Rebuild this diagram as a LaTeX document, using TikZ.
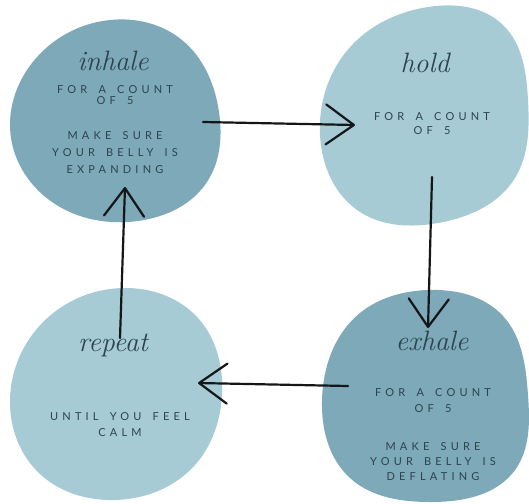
\documentclass[tikz,border=0pt]{standalone}
\usepackage{fontspec}
\usetikzlibrary{arrows.meta,hobby}
\newfontfamily\capsfont[LetterSpace=38,WordSpace=1.6]{Lato}
\definecolor{blobdark}{RGB}{125,169,184}
\definecolor{bloblight}{RGB}{166,203,212}
\definecolor{txt}{RGB}{44,68,78}
\definecolor{ink}{RGB}{20,22,24}
\begin{document}
\begin{tikzpicture}[x=1pt,y=-1pt,
  darkblob/.style={fill=blobdark,draw=none},
  lightblob/.style={fill=bloblight,draw=none},
  title/.style={font=\itshape\fontsize{28}{28}\selectfont,text=txt,inner sep=0},
  caps/.style={text=txt,align=center,inner sep=0},
  conn/.style={line width=2.2pt,draw=ink,line cap=round,
    -{Straight Barb[length=28pt,width=40pt,line join=round,line cap=round]}}]
\useasboundingbox (0,0) rectangle (529,503);
\fill[white] (0,0) rectangle (529,503);
% blobs
\fill[darkblob,use Hobby shortcut,closed=true] (110,20) .. (182,40) .. (219,112) .. (207,182) .. (138,221) .. (55,204) .. (11,138) .. (32,63);
\fill[lightblob,use Hobby shortcut,closed=true] (428,7) .. (503,25) .. (528,100) .. (515,178) .. (438,223) .. (360,212) .. (320,135) .. (352,45);
\fill[lightblob,use Hobby shortcut,closed=true] (127,288) .. (198,318) .. (222,395) .. (195,465) .. (115,500) .. (40,474) .. (10,400) .. (52,314);
\fill[darkblob,use Hobby shortcut,closed=true] (428,290) .. (503,316) .. (528,395) .. (515,470) .. (430,502) .. (350,478) .. (322,400) .. (360,313);
% texts
\node[title] (tinhale) at (113,61) {inhale};
\node[caps,font=\capsfont\fontsize{11}{11.5}\selectfont] (inA) at (115,95) {FOR A COUNT\\OF 5};
\node[caps,font=\capsfont\fontsize{11}{17}\selectfont] (inB) at (115,153) {MAKE SURE\\YOUR BELLY IS\\EXPANDING};
\node[title] (thold) at (425,63) {hold};
\node[caps,font=\capsfont\fontsize{11}{14}\selectfont] (hoA) at (432,124) {FOR A COUNT\\OF 5};
\node[title] (texhale) at (432,341) {exhale};
\node[caps,font=\capsfont\fontsize{11}{16}\selectfont] (exA) at (433,401) {FOR A COUNT\\OF 5};
\node[caps,font=\capsfont\fontsize{11}{15}\selectfont] (exB) at (433,462) {MAKE SURE\\YOUR BELLY IS\\DEFLATING};
\node[title] (trepeat) at (113,345) {repeat};
\node[caps,font=\capsfont\fontsize{11}{16}\selectfont] (reA) at (120,425) {UNTIL YOU FEEL\\CALM};
% connector end points
\coordinate (a1) at (203,122);
\coordinate (a2) at (355,125);
\coordinate (b1) at (432,177);
\coordinate (b2) at (428,328);
\coordinate (c1) at (348,386);
\coordinate (c2) at (198,383);
\coordinate (d1) at (120,338);
\coordinate (d2) at (125,187);
\draw[conn] (a1) -- (a2);
\draw[conn] (b1) -- (b2);
\draw[conn] (c1) -- (c2);
\draw[conn] (d1) -- (d2);
\end{tikzpicture}
\end{document}
